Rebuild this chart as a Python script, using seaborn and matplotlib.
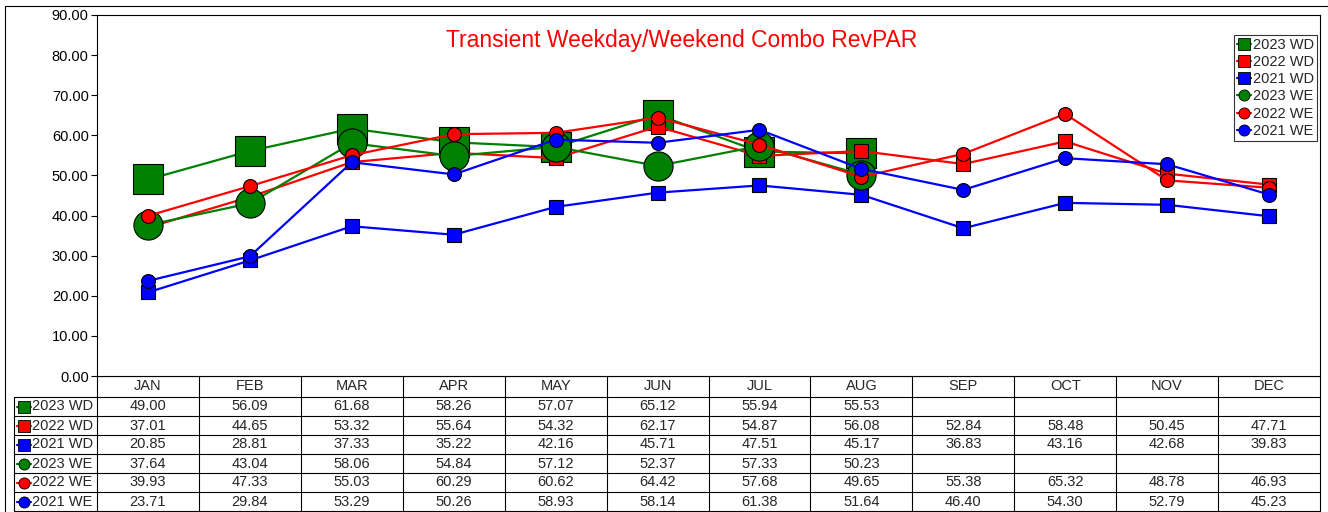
import numpy as np
import pandas as pd
import seaborn as sns
import matplotlib.pyplot as plt
from matplotlib.lines import Line2D
from matplotlib.transforms import blended_transform_factory

months = ["JAN", "FEB", "MAR", "APR", "MAY", "JUN", "JUL", "AUG", "SEP", "OCT", "NOV", "DEC"]
wd_2023 = [49.00, 56.09, 61.68, 58.26, 57.07, 65.12, 55.94, 55.53, np.nan, np.nan, np.nan, np.nan]
wd_2022 = [37.01, 44.65, 53.32, 55.64, 54.32, 62.17, 54.87, 56.08, 52.84, 58.48, 50.45, 47.71]
wd_2021 = [20.85, 28.81, 37.33, 35.22, 42.16, 45.71, 47.51, 45.17, 36.83, 43.16, 42.68, 39.83]
we_2023 = [37.64, 43.04, 58.06, 54.84, 57.12, 52.37, 57.33, 50.23, np.nan, np.nan, np.nan, np.nan]
we_2022 = [39.93, 47.33, 55.03, 60.29, 60.62, 64.42, 57.68, 49.65, 55.38, 65.32, 48.78, 46.93]
we_2021 = [23.71, 29.84, 53.29, 50.26, 58.93, 58.14, 61.38, 51.64, 46.40, 54.30, 52.79, 45.23]

series_names = ["2023 WD", "2022 WD", "2021 WD", "2023 WE", "2022 WE", "2021 WE"]
series_vals = [wd_2023, wd_2022, wd_2021, we_2023, we_2022, we_2021]
colors = ["#008000", "#FF0000", "#0000FF", "#008000", "#FF0000", "#0000FF"]
markers = ["s", "s", "s", "o", "o", "o"]
msizes = [21, 10, 10, 21, 10, 10]

sns.set_style("ticks")
plt.rcParams["font.family"] = ["Liberation Sans", "DejaVu Sans"]

W, H = 1328, 512
fig = plt.figure(figsize=(W / 100, H / 100), dpi=100)
ax = fig.add_axes([97 / W, 1 - 376 / H, (1320 - 97) / W, (376 - 15) / H])

x = np.arange(len(months))
for name, vals, c, m, ms in zip(series_names, series_vals, colors, markers, msizes):
    df = pd.DataFrame({"x": x, "y": vals}).dropna()
    sns.lineplot(data=df, x="x", y="y", ax=ax, color=c, marker=m, markersize=ms,
                 markeredgecolor="black", markeredgewidth=0.8, linewidth=1.6,
                 sort=False, label=name)

ax.set_xlim(-0.5, len(months) - 0.5)
ax.set_ylim(0, 90)
ax.set_yticks(np.arange(0, 91, 10))
ax.set_yticklabels([f"{v:.2f}" for v in np.arange(0, 91, 10)], fontsize=10.5)
ax.set_xticks([])
ax.set_xlabel("")
ax.set_ylabel("")
ax.tick_params(axis="y", length=4, width=0.8, pad=2, colors="black")
for s in ax.spines.values():
    s.set_visible(True)
    s.set_color("black")
    s.set_linewidth(0.8)

handles = [Line2D([0], [0], color=c, marker=m, markersize=8, markeredgecolor="black",
                  markeredgewidth=0.6, linewidth=1.6)
           for c, m in zip(colors, markers)]
leg = ax.legend(handles, series_names, loc="upper right", bbox_to_anchor=(0.9975, 0.945),
                fontsize=10.5, frameon=True, fancybox=False, edgecolor="black",
                handlelength=1.0, handletextpad=0.1, labelspacing=0.22,
                borderpad=0.2, borderaxespad=0)
leg.get_frame().set_linewidth(0.8)

fig.text(682 / W, 1 - 40 / H, "Transient Weekday/Weekend Combo RevPAR", color="#FF0000",
         fontsize=16.5, ha="center", va="center")

# table underneath, in pixel coordinates
tab = fig.add_axes([0, 0, 1, 1], zorder=-1)
tab.set_xlim(0, W)
tab.set_ylim(H, 0)
tab.axis("off")
bt = blended_transform_factory(ax.transData, tab.transData)

row_top = 397
row_h = 19
n_rows = len(series_names)
lw = 0.8
# horizontal lines
tab.plot([97, 1320], [376, 376], color="black", lw=lw)
for k in range(n_rows + 1):
    yy = row_top + k * row_h
    tab.plot([14, 1320], [yy, yy], color="black", lw=lw)
# vertical lines
for i in range(len(months) + 1):
    tab.plot([i - 0.5, i - 0.5], [376, row_top + n_rows * row_h], color="black", lw=lw,
             transform=bt)
tab.plot([14, 14], [row_top, row_top + n_rows * row_h], color="black", lw=lw)
# outer frame
tab.plot([5, 5], [6, H], color="black", lw=lw)
tab.plot([5, W], [6, 6], color="black", lw=lw)

for i, mth in enumerate(months):
    tab.text(i, (376 + row_top) / 2, mth, ha="center", va="center", fontsize=10.5, transform=bt)

for k, (name, vals, c, m) in enumerate(zip(series_names, series_vals, colors, markers)):
    yc = row_top + k * row_h + row_h / 2
    tab.plot([17, 31], [yc, yc], color=c, lw=1.6)
    tab.plot([24], [yc], marker=m, markersize=8, color=c, markeredgecolor="black",
             markeredgewidth=0.6)
    tab.text(32, yc, name, ha="left", va="center", fontsize=10.5)
    for i, v in enumerate(vals):
        if not np.isnan(v):
            tab.text(i, yc, f"{v:.2f}", ha="center", va="center", fontsize=10.5, transform=bt)

fig.savefig("out.png", dpi=100)
